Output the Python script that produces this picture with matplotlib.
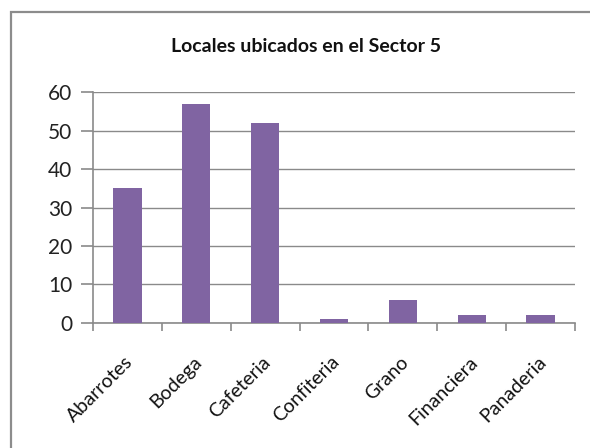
import matplotlib.pyplot as plt
import matplotlib.transforms as mtransforms
from matplotlib.patches import Rectangle

# Locales por tipo de negocio en el Sector 5
tipos = ["Abarrotes", "Bodega", "Cafeteria", "Confiteria", "Grano", "Financiera", "Panaderia"]
locales = [35, 57, 52, 1, 6, 2, 2]
marcas_y = [0, 10, 20, 30, 40, 50, 60]

plt.rcParams["font.family"] = ["Lato", "DejaVu Sans"]

fig = plt.figure(figsize=(5.9, 4.48), dpi=100)
ax = fig.add_axes([0.1576, 0.2797, 0.817, 0.514])

# marco exterior del gráfico
fig.patches.append(Rectangle((11 / 590, -0.1), 1.0, 1 - 12 / 448 + 0.1,
                             transform=fig.transFigure, fill=False,
                             edgecolor="#8c8c8c", linewidth=1.6))

pos = list(range(len(tipos)))
ax.bar(pos, locales, width=0.41, color="#8064A2", zorder=3)

ax.set_xlim(-0.5, len(tipos) - 0.5)
ax.set_ylim(0, 60)
ax.set_yticks(marcas_y)
ax.set_yticklabels([str(v) for v in marcas_y], fontsize=15, color="#222222")
ax.yaxis.grid(True, color="#8a8a8a", linewidth=1.0, zorder=0)

ax.set_xticks([p - 0.5 for p in pos] + [len(tipos) - 0.5])
ax.set_xticklabels([])
ax.set_xticks(pos, minor=True)
ax.set_xticklabels(tipos, minor=True, rotation=45, ha="right", va="top",
                   rotation_mode="anchor", fontsize=14, color="#111111")
ax.tick_params(axis="x", which="minor", length=0, pad=22)
ax.tick_params(axis="x", which="major", length=6, color="#8a8a8a", width=1.2)
ax.tick_params(axis="y", length=9, color="#8a8a8a", width=1.2, pad=6)

desplaza = mtransforms.ScaledTranslation(-3 / 100, 0, fig.dpi_scale_trans)
for etiqueta in ax.get_xticklabels(minor=True):
    etiqueta.set_transform(etiqueta.get_transform() + desplaza)

for lado in ["top", "right"]:
    ax.spines[lado].set_visible(False)
for lado in ["left", "bottom"]:
    ax.spines[lado].set_color("#8a8a8a")
    ax.spines[lado].set_linewidth(1.2)

fig.text(306 / 590, 1 - 46 / 448, "Locales ubicados en el Sector 5",
         ha="center", va="center", fontsize=14, fontweight="bold", color="#111111")

plt.savefig("out.png", dpi=100)
plt.close()
